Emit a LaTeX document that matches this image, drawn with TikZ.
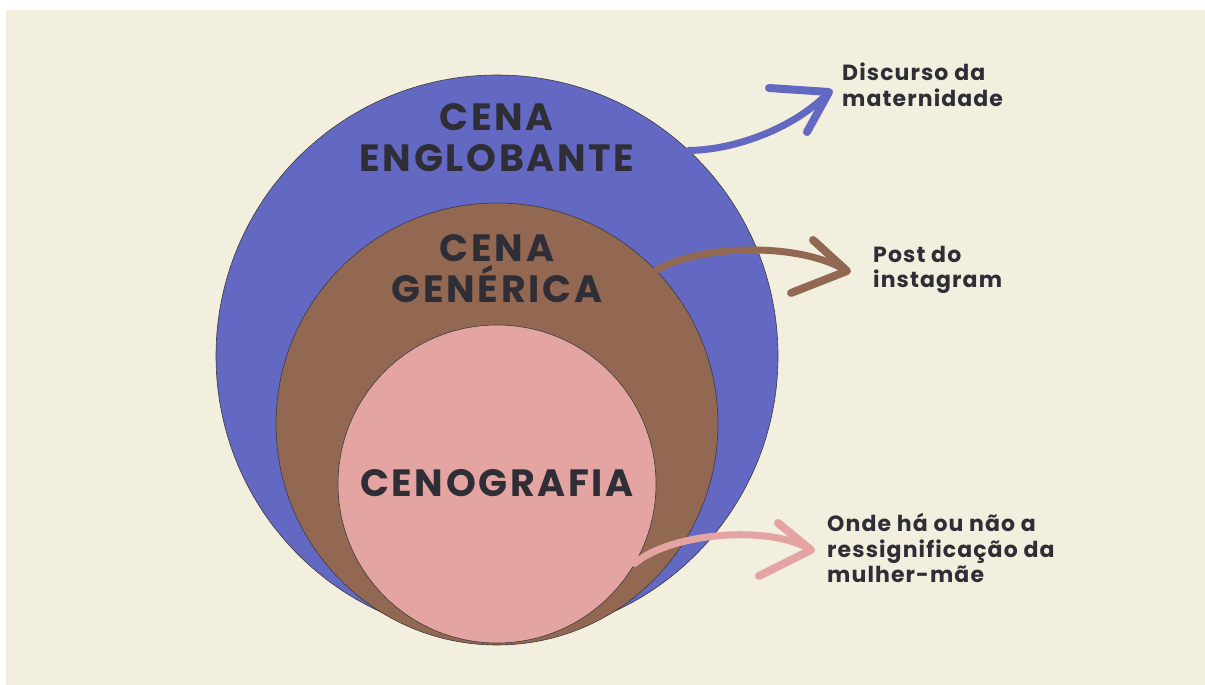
\documentclass[tikz,border=0pt]{standalone}
\usepackage{fontspec}
\setmainfont{Poppins}
\newfontfamily\bigfam{Poppins}[LetterSpace=7]
\newfontfamily\sidefam{Poppins}[LetterSpace=5]
\definecolor{bgcream}{RGB}{242,239,223}
\definecolor{cblue}{RGB}{99,105,194}
\definecolor{cbrown}{RGB}{146,104,82}
\definecolor{cpink}{RGB}{228,164,162}
\definecolor{ctext}{RGB}{47,46,54}
\definecolor{cedge}{RGB}{60,58,64}
\tikzset{
  ring/.style={circle, draw=cedge, line width=0.6pt, inner sep=0pt, outer sep=0pt},
  bigtxt/.style={font=\bigfam\fontsize{38}{41}\selectfont\bfseries, text=ctext, align=center, inner sep=0pt},
  side/.style={font=\sidefam\fontsize{22}{25.5}\selectfont\bfseries, text=ctext, align=left, inner sep=0pt, anchor=west},
  arr/.style={line width=7pt, line cap=round, line join=round},
  arrhead/.style={line width=8pt, line cap=round, line join=round}
}
\begin{document}
\begin{tikzpicture}[x=1pt,y=-1pt]
\useasboundingbox (0,0) rectangle (1205,685);
\fill[white] (0,0) rectangle (1205,685);
\fill[bgcream] (6,10) rectangle (1205,685);
% circles
\node[ring, fill=cblue, minimum size=562pt] (blue) at (497,356) {};
\node[ring, fill=cbrown, minimum size=442pt] (brown) at (497,424) {};
\node[ring, fill=cpink, minimum size=318pt] (pink) at (497,484) {};
% circle labels
\node[bigtxt] (t1) at (497,138) {CENA\\ENGLOBANTE};
\node[bigtxt] (t2) at (497,269) {CENA\\GENÉRICA};
\node[bigtxt] (t3) at (497,483) {CENOGRAFIA};
% side labels
\node[side] (l1) at (842,85) {Discurso da\\maternidade};
\node[side] (l2) at (873,270) {Post do\\instagram};
\node[side] (l3) at (827,548) {Onde há ou não a\\ressignificação da\\mulher-mãe};
% arrow tips
\coordinate (tip1) at (829,92);
\coordinate (tip2) at (847,271);
\coordinate (tip3) at (811,550);
% arrows
\draw[arr, cblue] (blue.47) .. controls (735,150) and (795,128) .. (tip1);
\draw[arrhead, cblue] (tip1) ++(-60,-4) -- (tip1) -- ++(-22,40);
\draw[arr, cbrown] (brown.44) .. controls (700,244) and (800,242) .. (tip2);
\draw[arrhead, cbrown] (tip2) ++(-34,-31) -- (tip2) -- ++(-56,22);
\draw[arr, cpink] (pink.-30) .. controls (670,533) and (770,524) .. (tip3);
\draw[arrhead, cpink] (tip3) ++(-33,-27) -- (tip3) -- ++(-52,26);
\end{tikzpicture}
\end{document}
